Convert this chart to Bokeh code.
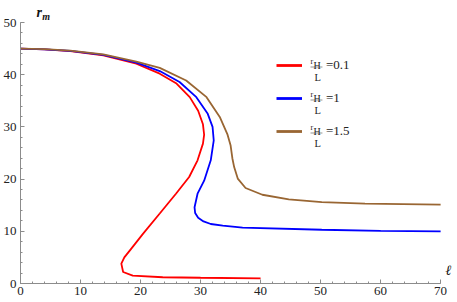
from bokeh.plotting import figure
from bokeh.models import Range1d, SingleIntervalTicker, Label, Legend, LegendItem
from bokeh.embed import file_html
from bokeh.resources import INLINE

# ---- data (x = ell, y = r_m) ----
red_x = [0, 4, 8.3, 13.8, 19.3, 23.2, 26.0, 28.2, 29.6, 30.4, 30.6, 30.4, 29.5, 28.1, 25.9,
         23.2, 20.4, 18.2, 17.3, 16.8, 17.1, 18.7, 23.7, 30.0, 40.0]
red_y = [45.0, 44.85, 44.5, 43.7, 42.1, 40.2, 38.3, 35.7, 33.1, 30.5, 28.5, 26.8, 23.6, 20.4, 17.2,
         13.4, 9.5, 6.3, 5.0, 3.8, 2.2, 1.5, 1.2, 1.1, 1.0]

blue_x = [0, 4, 8.3, 13.8, 19.3, 23.2, 26.5, 29.3, 31.2, 32.0, 32.2, 31.7, 30.6, 29.5, 29.0,
          29.1, 29.6, 30.5, 31.7, 33.7, 37.0, 50.2, 60.0, 70.0]
blue_y = [45.0, 44.85, 44.55, 43.8, 42.3, 40.7, 38.6, 35.7, 32.5, 30.0, 27.4, 23.6, 19.7, 17.2, 14.6,
          13.5, 12.6, 11.9, 11.4, 11.1, 10.7, 10.3, 10.1, 10.0]

brown_x = [0, 4, 8.3, 13.8, 19.3, 23.2, 27.6, 31.0, 33.2, 34.5, 35.0, 35.3, 35.6, 36.2, 37.5,
           40.3, 44.7, 50.2, 57.4, 70.0]
brown_y = [45.0, 44.9, 44.6, 43.9, 42.5, 41.3, 38.9, 35.7, 31.9, 28.5, 26.5, 24.0, 22.3, 20.1, 18.3,
           17.0, 16.1, 15.6, 15.3, 15.1]

series_names = ["=0.1", "=1", "=1.5"]
colors = ["#FF0000", "#0000FF", "#996633"]

x_ticks = [0, 10, 20, 30, 40, 50, 60, 70]
y_ticks = [0, 10, 20, 30, 40, 50]

W, H = 457, 302
# pixel positions of the axis ends (x=0..70, y=0..50) in the picture
FL, FR, FT, FB = 17, 440, 22, 283
X0, X1, Y0, Y1 = x_ticks[0], x_ticks[-1], y_ticks[0], y_ticks[-1]
# the frame reaches the top and right edges so that the axis labels there are not clipped
XR = X1 + (W - FR) * (X1 - X0) / (FR - FL)
YT = Y1 + FT * (Y1 - Y0) / (FB - FT)

p = figure(width=W, height=H, output_backend="svg", toolbar_location=None,
           x_range=Range1d(X0, XR), y_range=Range1d(Y0, YT),
           min_border_left=FL, min_border_right=0, min_border_top=0, min_border_bottom=H - FB)
p.outline_line_color = None
p.xgrid.visible = False
p.ygrid.visible = False
p.background_fill_color = "white"
p.border_fill_color = "white"

for ax, b in ((p.xaxis, (X0, X1)), (p.yaxis, (Y0, Y1))):
    ax.bounds = b
    ax.ticker = SingleIntervalTicker(interval=10, num_minor_ticks=5)
    ax.axis_line_color = "#8c8c8c"
    ax.major_tick_line_color = "#8c8c8c"
    ax.minor_tick_line_color = "#8c8c8c"
    ax.major_tick_in = 4
    ax.major_tick_out = 0
    ax.minor_tick_in = 2
    ax.minor_tick_out = 0
    ax.major_label_text_font = "Liberation Serif"
    ax.major_label_text_font_size = "13px"
    ax.major_label_text_color = "#222222"
p.xaxis.major_label_standoff = 3
p.yaxis.major_label_standoff = 4

renderers = []
for xs, ys, c in ((red_x, red_y, colors[0]), (blue_x, blue_y, colors[1]), (brown_x, brown_y, colors[2])):
    p.line(xs, ys, line_color=c, line_width=1.8)
    # one-point line: draws nothing itself, only supplies a thicker legend sample
    renderers.append(p.line(xs[:1], ys[:1], line_color=c, line_width=2.8))

# legend
row_centers = [65, 98, 131]
items = [LegendItem(label=n, renderers=[r]) for n, r in zip(series_names, renderers)]
leg = Legend(items=items, location=(273 - FL, FB - (row_centers[-1] + 10)),
             padding=0, margin=0, spacing=13, glyph_width=26, glyph_height=20, label_height=20,
             label_standoff=24, border_line_color=None, background_fill_alpha=0,
             label_text_font="Liberation Serif", label_text_font_size="13px",
             label_text_baseline="middle", label_text_color="#222222")
p.add_layout(leg)


def dx(px):
    return X0 + (px - FL) / (FR - FL) * (X1 - X0)


def dy(py):
    return Y0 + (FB - py) / (FB - FT) * (Y1 - Y0)


def txt(x, y, t, size, style="normal", align="left", color="#222222"):
    p.add_layout(Label(x=dx(x), y=dy(y), text=t, level="overlay",
                       text_font="Liberation Serif", text_font_size=size, text_font_style=style,
                       text_align=align, text_baseline="alphabetic", text_color=color))


for c in row_centers:
    txt(309, c - 4, "r", "8px")
    txt(312, c, "H", "10px")
    txt(313, c + 11.5, "L", "10.5px")
p.segment(x0=[dx(309)] * 3, x1=[dx(321)] * 3,
          y0=[dy(c + 1.5) for c in row_centers], y1=[dy(c + 1.5) for c in row_centers],
          line_color="#666666", line_width=0.7)

# axis labels
txt(33, 12, "r", "14px", "bold italic", color="#111111")
txt(39, 15.5, "m", "10px", "bold italic", color="#111111")
txt(445, 270, "\u2113", "14px", "italic", color="#111111")

open("out.html", "w").write(file_html(p, INLINE))
